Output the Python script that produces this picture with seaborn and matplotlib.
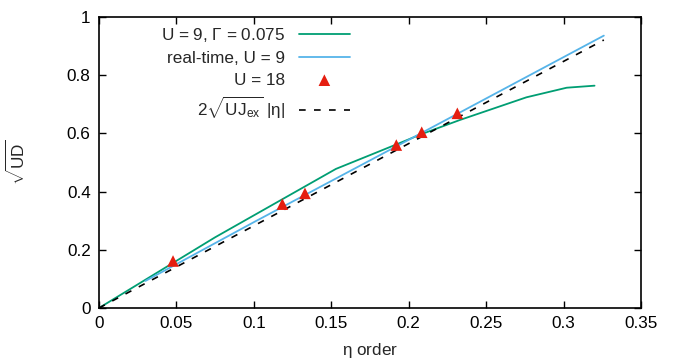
import matplotlib
matplotlib.use("Agg")
import matplotlib.pyplot as plt
import seaborn as sns
import pandas as pd

# --- data ---
eta_gamma = [0.0, 0.075, 0.153, 0.192, 0.208, 0.233, 0.276, 0.302, 0.320]
sud_gamma = [0.0, 0.243, 0.478, 0.562, 0.597, 0.646, 0.724, 0.757, 0.764]

eta_real = [0.030, 0.100, 0.200, 0.326]
sud_real = [0.093, 0.295, 0.578, 0.936]

eta_u18 = [0.0478, 0.1184, 0.1330, 0.1920, 0.2084, 0.2314]
sud_u18 = [0.1615, 0.357, 0.394, 0.560, 0.604, 0.669]

eta_fit = [0.0, 0.326]
sud_fit = [0.0, 0.921]

xticks = [0, 0.05, 0.1, 0.15, 0.2, 0.25, 0.3, 0.35]
xticklabels = ["0", "0.05", "0.1", "0.15", "0.2", "0.25", "0.3", "0.35"]
yticks = [0, 0.2, 0.4, 0.6, 0.8, 1.0]
yticklabels = ["0", "0.2", "0.4", "0.6", "0.8", "1"]

labels = [r"U = 9, $\Gamma$ = 0.075", "real-time, U = 9", "U = 18",
          r"$2\sqrt{\mathrm{UJ}_{\mathrm{ex}}}\ |\eta|$"]

sns.set_style("ticks")
plt.rcParams["font.family"] = ["Liberation Sans", "DejaVu Sans"]
plt.rcParams["mathtext.fontset"] = "custom"
plt.rcParams["mathtext.rm"] = "Liberation Sans"
plt.rcParams["mathtext.it"] = "Liberation Sans"
plt.rcParams["mathtext.bf"] = "Liberation Sans:bold"

FS = 12.3

fig = plt.figure(figsize=(6.78, 3.62), dpi=100)
ax = fig.add_axes([99 / 678, 1 - 308 / 362, (641 - 99) / 678, (308 - 17) / 362])

df_g = pd.DataFrame({"eta": eta_gamma, "sud": sud_gamma})
df_r = pd.DataFrame({"eta": eta_real, "sud": sud_real})
df_u = pd.DataFrame({"eta": eta_u18, "sud": sud_u18})
df_f = pd.DataFrame({"eta": eta_fit, "sud": sud_fit})

sns.lineplot(data=df_g, x="eta", y="sud", ax=ax, color="#009e73", lw=1.3,
             label=labels[0], sort=False, estimator=None)
sns.lineplot(data=df_r, x="eta", y="sud", ax=ax, color="#56b4e9", lw=1.3,
             label=labels[1], sort=False, estimator=None)
sns.scatterplot(data=df_u, x="eta", y="sud", ax=ax, color="#e51e10", marker="^",
                s=70, edgecolor="none", label=labels[2], zorder=5)
sns.lineplot(data=df_f, x="eta", y="sud", ax=ax, color="black", lw=1.2,
             label=labels[3], sort=False, estimator=None)
ax.lines[-1].set_dashes([4, 5])

ax.set_xlim(0, 0.35)
ax.set_ylim(0, 1)
ax.set_xticks(xticks)
ax.set_xticklabels(xticklabels)
ax.set_yticks(yticks)
ax.set_yticklabels(yticklabels)
ax.tick_params(direction="in", length=5, width=1, top=True, right=True,
               labelsize=FS, colors="black", pad=6)
for sp in ax.spines.values():
    sp.set_visible(True)
    sp.set_linewidth(1.2)
    sp.set_color("black")

ax.set_xlabel(r"$\eta$ order", fontsize=FS, labelpad=7)
ax.set_ylabel(r"$\sqrt{\mathrm{UD}}$", fontsize=FS, labelpad=28)

leg = ax.legend(loc="upper right", bbox_to_anchor=(350 / 678, 1 - 26 / 362),
                bbox_transform=fig.transFigure, frameon=False, markerfirst=False,
                fontsize=FS, handlelength=3.0, handletextpad=0.8,
                labelspacing=0.4, borderpad=0, borderaxespad=0)
for h in leg.legend_handles:
    try:
        h.set_sizes([70])
    except Exception:
        pass

fig.savefig("out.png", dpi=100)
